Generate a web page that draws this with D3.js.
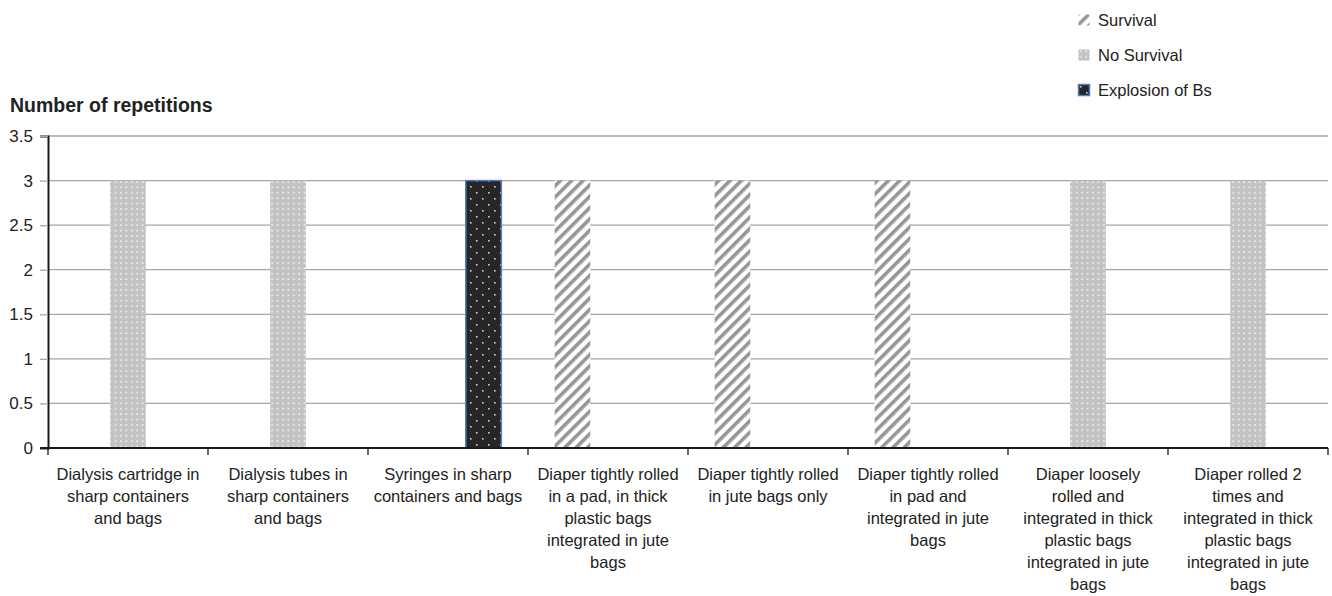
<!DOCTYPE html>
<html>
<head>
<meta charset="utf-8">
<script src="https://cdn.jsdelivr.net/npm/d3@7"></script>
<style>
	body { margin: 0; background: #fff; }
	text { font-family: "Liberation Sans", Arial, sans-serif; fill: #222; }
</style>
</head>
<body>
<div id="chart"></div>
<script>
// chart values
let categories = [
	["Dialysis cartridge in", "sharp containers", "and bags"],
	["Dialysis tubes in", "sharp containers", "and bags"],
	["Syringes in sharp", "containers and bags"],
	["Diaper tightly rolled", "in a pad, in  thick", "plastic bags", "integrated in jute", "bags"],
	["Diaper tightly rolled", "in jute bags only"],
	["Diaper tightly rolled", "in pad and", "integrated in jute", "bags"],
	["Diaper loosely", "rolled and", "integrated in thick", "plastic bags", "integrated in jute", "bags"],
	["Diaper rolled 2", "times and", "integrated in thick", "plastic bags", "integrated in jute", "bags"]
];
let seriesNames = ["Survival", "No Survival", "Explosion of Bs"];
let survival = [0, 0, 0, 3, 3, 3, 0, 0];
let noSurvival = [3, 3, 0, 0, 0, 0, 3, 3];
let explosion = [0, 0, 3, 0, 0, 0, 0, 0];
let yTicks = [0, 0.5, 1, 1.5, 2, 2.5, 3, 3.5];

let drawChart = function (parent) {
	let totalW = 1332, totalH = 596;
	let margin = { top: 136, right: 4, bottom: 148, left: 48 };
	let width = totalW - margin.left - margin.right;
	let height = totalH - margin.top - margin.bottom;

	let svg = d3.select(parent).append("svg")
		.attr("width", totalW)
		.attr("height", totalH);

	//patterns for the three series
	let defs = svg.append("defs");
	let pSurv = defs.append("pattern")
		.attr("id", "pat-surv")
		.attr("patternUnits", "userSpaceOnUse")
		.attr("width", 8).attr("height", 8)
		.attr("patternTransform", "rotate(45)");
	pSurv.append("rect").attr("width", 8).attr("height", 8).attr("fill", "#fff");
	pSurv.append("rect").attr("width", 3.6).attr("height", 8).attr("fill", "#969696");

	let pNo = defs.append("pattern")
		.attr("id", "pat-no")
		.attr("patternUnits", "userSpaceOnUse")
		.attr("width", 5.4).attr("height", 5.4);
	pNo.append("rect").attr("width", 5.4).attr("height", 5.4).attr("fill", "#c3c3c3");
	pNo.append("rect").attr("x", 2).attr("y", 2).attr("width", 1.6).attr("height", 1.6).attr("fill", "#f2f2f2");

	let pExp = defs.append("pattern")
		.attr("id", "pat-exp")
		.attr("patternUnits", "userSpaceOnUse")
		.attr("width", 12).attr("height", 12);
	pExp.append("rect").attr("width", 12).attr("height", 12).attr("fill", "#262626");
	pExp.append("rect").attr("x", 2).attr("y", 2).attr("width", 1.6).attr("height", 1.6).attr("fill", "#d0d0d0");
	pExp.append("rect").attr("x", 8).attr("y", 8).attr("width", 1.6).attr("height", 1.6).attr("fill", "#d0d0d0");

	let fills = ["url(#pat-surv)", "url(#pat-no)", "url(#pat-exp)"];
	let strokes = ["none", "none", "#4f7fbf"];

	let g = svg.append("g")
		.attr("transform", `translate(${margin.left}, ${margin.top})`);

	let x = d3.scaleBand().domain(d3.range(categories.length)).range([0, width]);
	let xs = d3.scaleBand().domain(seriesNames).range([0, x.bandwidth()])
		.paddingInner(0).paddingOuter(0.75);
	let y = d3.scaleLinear().domain([0, 3.5]).range([height, 0]);

	//gridlines
	g.append("g")
		.selectAll("line")
		.data(yTicks.filter(d => d > 0))
		.enter()
		.append("line")
		.attr("x1", 0).attr("x2", width)
		.attr("y1", d => y(d)).attr("y2", d => y(d))
		.attr("stroke", "#a6a6a6")
		.attr("stroke-width", 1.3);

	//bars
	let seriesData = [survival, noSurvival, explosion];
	seriesData.forEach((vals, si) => {
		g.append("g")
			.selectAll("rect")
			.data(vals.map((v, i) => ({ i: i, v: v })).filter(d => d.v > 0))
			.enter()
			.append("rect")
			.attr("x", d => x(d.i) + xs(seriesNames[si]))
			.attr("y", d => y(d.v))
			.attr("width", xs.bandwidth())
			.attr("height", d => y(0) - y(d.v))
			.attr("fill", fills[si])
			.attr("stroke", strokes[si])
			.attr("stroke-width", 1.5);
	});

	//y-axis
	let yAxis = g.append("g")
		.call(d3.axisLeft(y).tickValues(yTicks).tickSize(8).tickFormat(d3.format("")));
	yAxis.select(".domain").attr("stroke", "#1a1a1a").attr("stroke-width", 2);
	yAxis.selectAll(".tick line").attr("stroke", "#a6a6a6").attr("stroke-width", 1.3);
	yAxis.selectAll(".tick text")
		.attr("x", -15)
		.style("font-size", "17px")
		.style("font-family", "Liberation Sans, Arial, sans-serif")
		.attr("fill", "#222");

	//x-axis
	let xLine = g.append("g").attr("transform", `translate(0, ${height})`);
	xLine.append("line")
		.attr("x1", -8).attr("x2", width)
		.attr("stroke", "#1a1a1a").attr("stroke-width", 2);
	xLine.selectAll(".xtick")
		.data(d3.range(categories.length + 1))
		.enter()
		.append("line")
		.attr("class", "xtick")
		.attr("x1", d => d * x.step()).attr("x2", d => d * x.step())
		.attr("y1", 0).attr("y2", 7)
		.attr("stroke", "#1a1a1a").attr("stroke-width", 1.3);

	//category labels
	let labels = xLine.selectAll(".cat")
		.data(categories)
		.enter()
		.append("text")
		.attr("class", "cat")
		.attr("x", (d, i) => x(i) + x.bandwidth() / 2)
		.attr("y", 32)
		.attr("text-anchor", "middle")
		.style("font-size", "16.5px");
	labels.selectAll("tspan")
		.data(d => d)
		.enter()
		.append("tspan")
		.attr("x", function () { return this.parentNode.getAttribute("x"); })
		.attr("dy", (d, i) => i === 0 ? 0 : 22)
		.text(d => d);

	//axis title
	svg.append("text")
		.attr("x", 10)
		.attr("y", 112)
		.style("font-size", "19.5px")
		.style("font-weight", "bold")
		.text("Number of repetitions");

	//legend
	let legend = svg.append("g").attr("transform", "translate(1078, 0)");
	let legY = [20, 55, 90];
	seriesNames.forEach((name, i) => {
		legend.append("rect")
			.attr("x", 0.5).attr("y", legY[i] - 5.5)
			.attr("width", 11).attr("height", 11)
			.attr("fill", fills[i])
			.attr("stroke", strokes[i])
			.attr("stroke-width", 1.5);
		legend.append("text")
			.attr("x", 20)
			.attr("y", legY[i])
			.attr("dy", "0.36em")
			.style("font-size", "16.5px")
			.text(name);
	});

	return svg.node();
};

drawChart(d3.select("#chart").node());
</script>
</body>
</html>
